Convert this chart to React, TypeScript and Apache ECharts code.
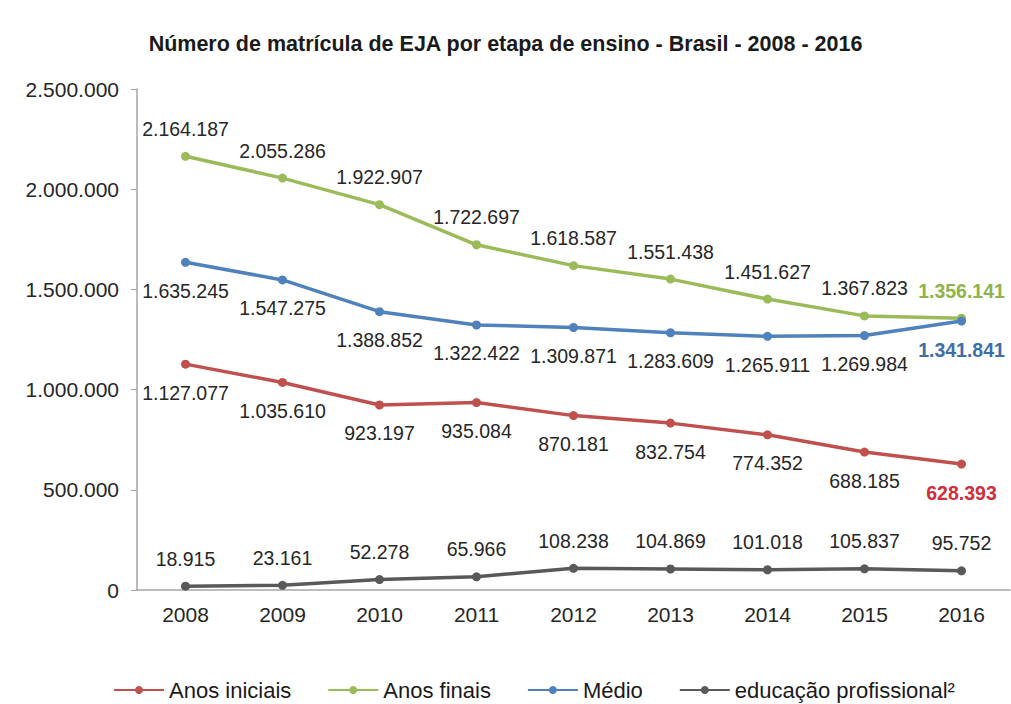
import React, { useEffect, useRef } from "react";
import * as echarts from "echarts";

const years = ["2008", "2009", "2010", "2011", "2012", "2013", "2014", "2015", "2016"];
const anosIniciais = [1127077, 1035610, 923197, 935084, 870181, 832754, 774352, 688185, 628393];
const anosFinais = [2164187, 2055286, 1922907, 1722697, 1618587, 1551438, 1451627, 1367823, 1356141];
const medio = [1635245, 1547275, 1388852, 1322422, 1309871, 1283609, 1265911, 1269984, 1341841];
const profissional = [18915, 23161, 52278, 65966, 108238, 104869, 101018, 105837, 95752];
const seriesNames = ["Anos iniciais", "Anos finais", "Médio", "educação profissional²"];
const yTicks = [0, 500000, 1000000, 1500000, 2000000, 2500000];

const FONT = "'Liberation Sans', Arial, Helvetica, sans-serif";

const fmt = (v: number) => String(v).replace(/\B(?=(\d{3})+(?!\d))/g, ".");

function buildData(values: number[], lastColor: string | null) {
  return values.map((v, i) => {
    if (i === values.length - 1 && lastColor) {
      return { value: v, label: { color: lastColor, fontWeight: "bold" } };
    }
    return { value: v };
  });
}

function makeSeries(
  name: string,
  values: number[],
  color: string,
  labelPos: "top" | "bottom",
  lastColor: string | null
) {
  return {
    name,
    type: "line",
    data: buildData(values, lastColor),
    symbol: "circle",
    symbolSize: 9,
    lineStyle: { color, width: 3.5 },
    itemStyle: { color },
    label: {
      show: true,
      position: labelPos,
      distance: labelPos === "top" ? 13 : 14,
      fontFamily: FONT,
      fontSize: 19.5,
      color: "#262626",
      formatter: (p: any) => fmt(p.value),
    },
  };
}

export default function App() {
  const ref = useRef<HTMLDivElement>(null);

  useEffect(() => {
    if (!ref.current) return;
    const chart = echarts.init(ref.current, null, { renderer: "svg" });
    chart.setOption({
      animation: false,
      backgroundColor: "#ffffff",
      title: {
        text: "Número de matrícula de EJA por etapa de ensino - Brasil - 2008 - 2016",
        left: "center",
        top: 28,
        textStyle: { fontFamily: FONT, fontSize: 21.5, fontWeight: "bold", color: "#1a1a1a" },
      },
      legend: {
        data: seriesNames,
        left: 108,
        top: 674,
        itemGap: 36,
        itemWidth: 50,
        itemHeight: 10,
        textStyle: { fontFamily: FONT, fontSize: 22, color: "#1a1a1a" },
      },
      grid: { left: 137, right: 1, top: 89, bottom: 114, containLabel: false },
      xAxis: {
        type: "category",
        data: years,
        boundaryGap: true,
        axisLine: { show: true, lineStyle: { color: "#a6a6a6", width: 1.5 } },
        axisTick: { show: false },
        axisLabel: { fontFamily: FONT, fontSize: 21, color: "#262626", margin: 14 },
      },
      yAxis: {
        type: "value",
        min: yTicks[0],
        max: yTicks[yTicks.length - 1],
        interval: yTicks[1] - yTicks[0],
        splitLine: { show: false },
        axisLine: { show: true, lineStyle: { color: "#a6a6a6", width: 1.5 } },
        axisTick: { show: true, length: 6, lineStyle: { color: "#a6a6a6" } },
        axisLabel: {
          fontFamily: FONT,
          fontSize: 21,
          color: "#262626",
          margin: 18,
          formatter: (v: number) => fmt(v),
        },
      },
      series: [
        makeSeries(seriesNames[0], anosIniciais, "#C0504D", "bottom", "#d02f3a"),
        makeSeries(seriesNames[1], anosFinais, "#9BBB59", "top", "#8fb34a"),
        makeSeries(seriesNames[2], medio, "#4F81BD", "bottom", "#3d6ea8"),
        makeSeries(seriesNames[3], profissional, "#595959", "top", null),
      ],
    });
    return () => chart.dispose();
  }, []);

  return (
    <div
      ref={ref}
      style={{ position: "fixed", left: 0, top: 0, width: 1011, height: 704, background: "#fff" }}
    />
  );
}
